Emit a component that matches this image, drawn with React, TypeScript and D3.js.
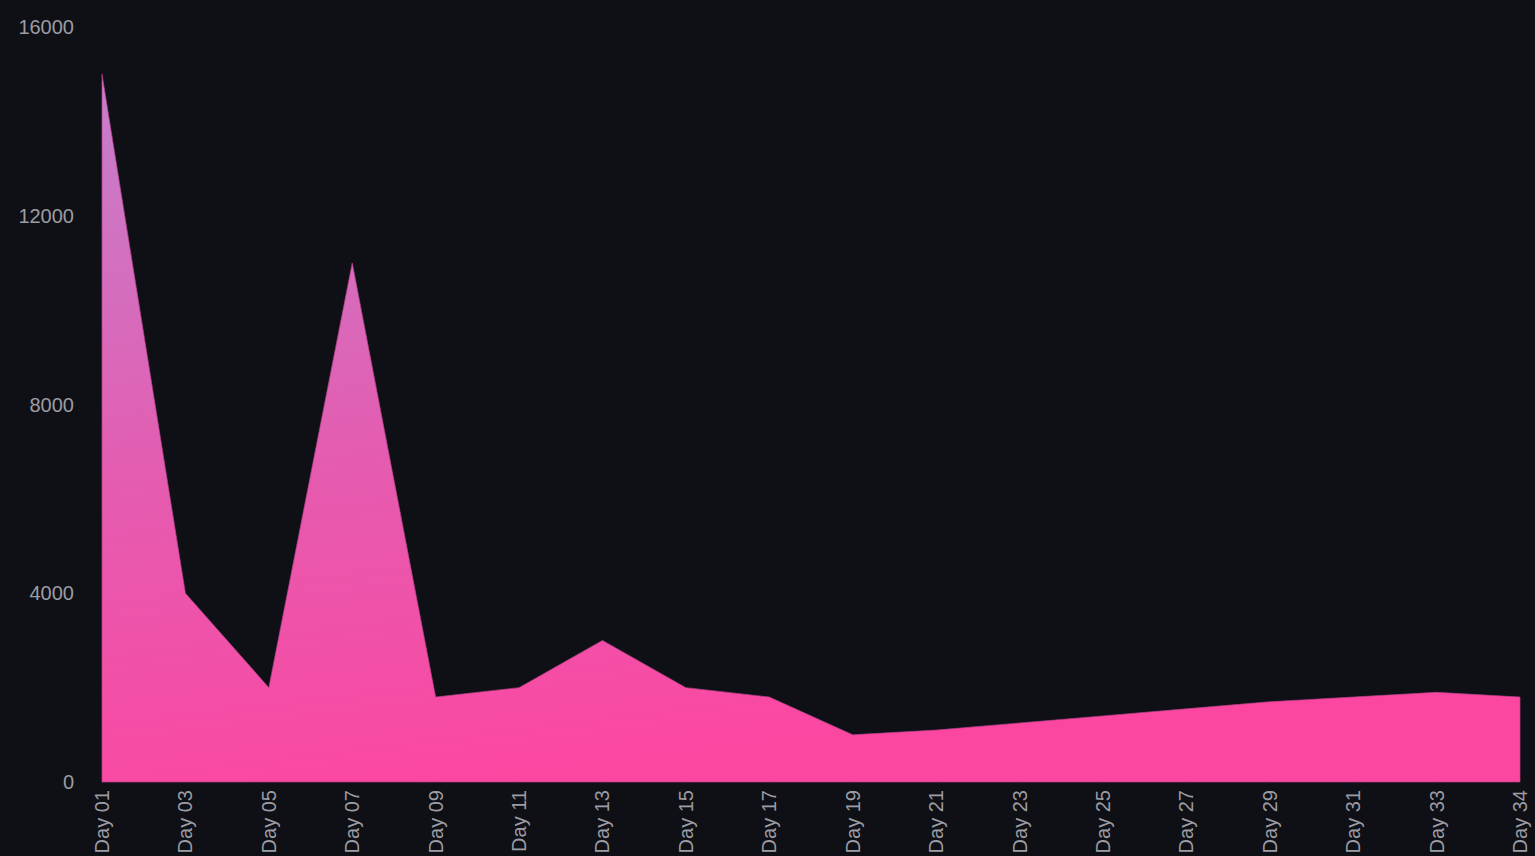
import { useEffect, useRef } from 'react';
import * as d3 from 'd3';

const days = [
  'Day 01', 'Day 03', 'Day 05', 'Day 07', 'Day 09', 'Day 11', 'Day 13', 'Day 15', 'Day 17',
  'Day 19', 'Day 21', 'Day 23', 'Day 25', 'Day 27', 'Day 29', 'Day 31', 'Day 33', 'Day 34',
];
const values = [
  15000, 4000, 2000, 11000, 1800, 2000, 3000, 2000, 1800,
  1000, 1100, 1250, 1400, 1550, 1700, 1800, 1900, 1800,
];
const yTicks = [0, 4000, 8000, 12000, 16000];

const W = 1535;
const H = 856;

const AreaChart = () => {
  const svgRef = useRef<SVGSVGElement>(null);

  useEffect(() => {
    const svg = d3.select(svgRef.current);
    svg.selectAll('*').remove();

    // 배경
    svg.append('rect').attr('width', W).attr('height', H).attr('fill', '#0f1015');

    const x = d3.scalePoint<string>().domain(days).range([102, 1520]);
    const y = d3.scaleLinear().domain([0, 16000]).range([782, 27]);

    const defs = svg.append('defs');
    const grad = defs
      .append('linearGradient')
      .attr('id', 'areaFill')
      .attr('x1', 0)
      .attr('y1', 0)
      .attr('x2', 0.25)
      .attr('y2', 1);
    grad.append('stop').attr('offset', '0%').attr('stop-color', '#c480cc');
    grad.append('stop').attr('offset', '55%').attr('stop-color', '#e45cb0');
    grad.append('stop').attr('offset', '100%').attr('stop-color', '#fc47a1');

    const area = d3
      .area<number>()
      .x((_, i) => x(days[i]) as number)
      .y0(y(0))
      .y1((d) => y(d));

    svg
      .append('path')
      .datum(values)
      .attr('d', area)
      .attr('fill', 'url(#areaFill)')
      .attr('stroke', '#b8408a')
      .attr('stroke-opacity', 0.7)
      .attr('stroke-width', 1);

    // y축 라벨
    svg
      .append('g')
      .selectAll('text')
      .data(yTicks)
      .enter()
      .append('text')
      .attr('x', 74)
      .attr('y', (d) => y(d))
      .attr('text-anchor', 'end')
      .attr('dominant-baseline', 'central')
      .attr('font-family', '"Liberation Sans", Arial, sans-serif')
      .attr('font-size', 20)
      .attr('fill', '#9c9ca4')
      .text((d) => d);

    // x축 라벨
    svg
      .append('g')
      .selectAll('text')
      .data(days)
      .enter()
      .append('text')
      .attr('transform', (d) => `translate(${x(d)}, 790) rotate(-90)`)
      .attr('text-anchor', 'end')
      .attr('dominant-baseline', 'central')
      .attr('font-family', '"Liberation Sans", Arial, sans-serif')
      .attr('font-size', 20)
      .attr('fill', '#9c9ca4')
      .text((d) => d);
  }, []);

  return (
    <svg
      ref={svgRef}
      width={W}
      height={H}
      style={{ position: 'absolute', left: 0, top: 0, display: 'block' }}
    />
  );
};

export default function App() {
  return <AreaChart />;
}
